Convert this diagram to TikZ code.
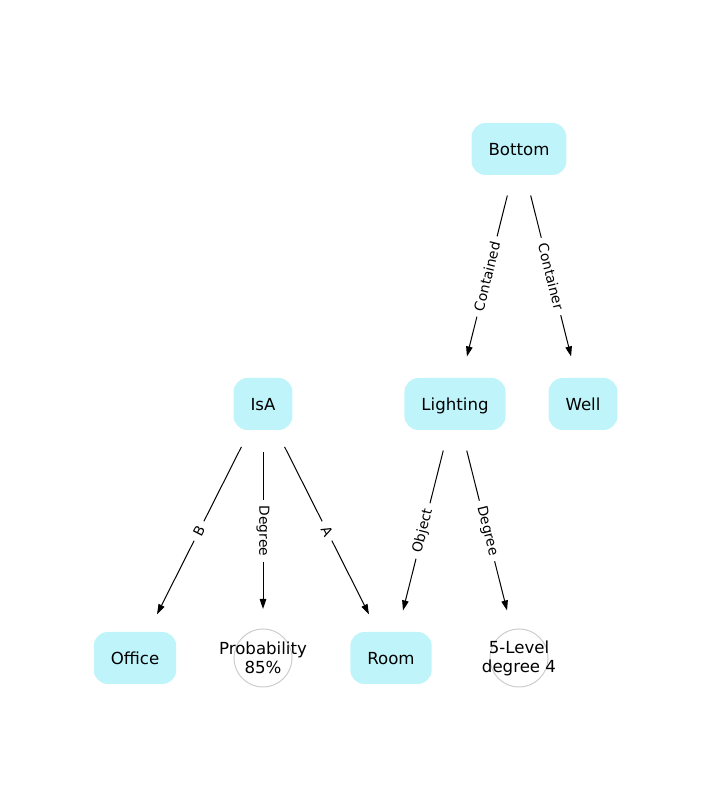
\documentclass[tikz,border=0pt]{standalone}
\usepackage{fontspec}
\setmainfont{DejaVu Sans}
\usepackage{tikz}
\usetikzlibrary{arrows.meta}
\definecolor{boxcyan}{RGB}{191,245,250}
\definecolor{ringgray}{RGB}{204,204,204}

\begin{document}
\begin{tikzpicture}[
		concept/.style={fill=boxcyan,rounded corners=0.28cm,minimum height=1.04cm,inner xsep=0.34cm,text height=6.9pt,text depth=0pt,font=\fontsize{9.45}{10.8}\selectfont},
		valuetext/.style={align=center,inner sep=0pt,font=\fontsize{9.45}{10.8}\selectfont},
		ring/.style={draw=ringgray,line width=0.02cm},
		rel/.style={line width=0.02cm,-{Triangle[length=0.2cm,width=0.13cm]},shorten <=0.96cm,shorten >=0.98cm},
		rellabel/.style={fill=white,inner sep=0.12cm,sloped,font=\fontsize{7.87}{9}\selectfont}]
			\useasboundingbox (0.,0.) rectangle (14.,16.);
			\draw[ring] (5.26,2.84) circle (0.58);
			\draw[ring] (10.38,2.84) circle (0.58);
			\node[concept] (bottom) at (10.38,13.02) {Bottom};
			\node[concept] (lighting) at (9.10,7.92) {Lighting};
			\node[concept] (well) at (11.66,7.92) {Well};
			\node[concept] (isa) at (5.26,7.92) {IsA};
			\node[concept] (office) at (2.70,2.84) {Office};
			\node[valuetext] (prob) at (5.26,2.84) {Probability\\85\%};
			\node[concept] (room) at (7.82,2.84) {Room};
			\node[valuetext] (level) at (10.38,2.84) {5-Level\\degree 4};
			\draw[rel] (bottom.center) -- node[rellabel] {Contained} (lighting.center);
			\draw[rel] (bottom.center) -- node[rellabel] {Container} (well.center);
			\draw[rel] (isa.center) -- node[rellabel] {B} (office.center);
			\draw[rel] (isa.center) -- node[rellabel] {Degree} (prob.center);
			\draw[rel] (isa.center) -- node[rellabel] {A} (room.center);
			\draw[rel] (lighting.center) -- node[rellabel] {Object} (room.center);
			\draw[rel] (lighting.center) -- node[rellabel] {Degree} (level.center);
		\end{tikzpicture}
\end{document}
